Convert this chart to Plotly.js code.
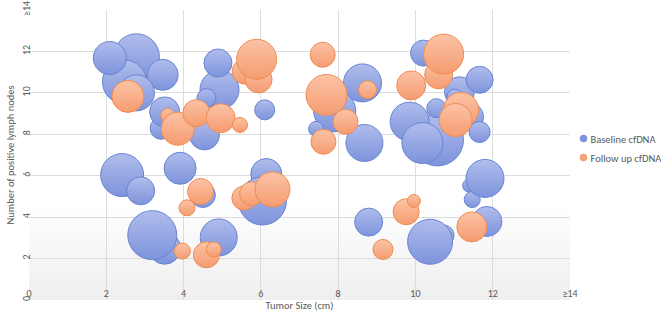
<!DOCTYPE html>
<html><head><meta charset="utf-8">
<script src="https://cdn.plot.ly/plotly-3.0.1.min.js"></script>
<style>html,body{margin:0;padding:0;background:#fff}#chart{width:661px;height:317px}</style>
</head><body><div id="chart"></div>
<script>
// Baseline cfDNA bubbles: tumor size (cm), positive lymph nodes, bubble size
const baseX = [2.78,2.47,2.09,3.46,2.78, 3.42,3.51,4.54,4.93,4.89,4.59,6.10, 7.91,7.43,8.63,8.68, 10.21,11.14,11.66,11.01, 10.57,9.85,10.18,10.54,11.40,11.66, 2.41,2.89,3.91,4.50,3.51,3.19,4.91, 6.14,6.04,8.79,10.74,10.38,11.39,11.47,11.80,11.85];
const baseY = [11.74,10.53,11.68,10.87,10.00, 8.29,9.08,7.97,10.15,11.44,9.74,9.18, 9.13,8.26,10.48,7.58, 11.92,10.05,10.63,9.82, 7.73,8.61,7.58,9.26,8.84,8.11, 6.03,5.27,6.36,5.07,2.50,3.13,3.02, 6.08,4.78,3.76,3.13,2.81,5.52,4.85,5.87,3.79];
const baseSize = [46,44,33,31,36, 22,30,30,39,28,19,20, 42,15,38,37, 26,30,27,15, 52,39,41,19,28,21, 43,28,32,25,32,49,37, 31,48,28,20,45,13,16,38,30];

// Follow up cfDNA bubbles
const followX = [2.56,3.59,3.85,4.33,4.96,5.46, 5.58,5.94,5.89, 7.60,7.70,8.19,7.62,8.76, 9.89,10.60,10.73,11.18,11.04, 4.44,4.09,3.97,4.59,4.78,5.56,5.76,6.30,9.16,9.76,9.96,11.46];
const followY = [9.83,8.91,8.27,9.02,8.78,8.45, 11.03,10.65,11.62, 11.84,9.90,8.61,7.64,10.15, 10.36,10.87,11.87,9.18,8.69, 5.24,4.45,2.36,2.18,2.44,4.92,5.13,5.34,2.44,4.26,4.78,3.53];
const followSize = [32,14,33,27,29,15, 25,27,40, 25,41,25,25,18, 29,28,40,35,33, 26,16,16,26,15,24,24,35,20,26,13,30];

// Axis ticks
const tickVals = [0,2,4,6,8,10,12,14];
const tickText = ['0','2','4','6','8','10','12','≥14'];
const seriesNames = ['Baseline cfDNA','Follow up cfDNA'];

const FONT = 'Carlito, Lato, "Liberation Sans", sans-serif';
const blue = {top:'#b0bdec', bottom:'#7d93db', line:'#6784d4', legend:'#7d95dc'};
const orange = {top:'#fcc3a6', bottom:'#f59c70', line:'#ef8c52', legend:'#f6a47c'};

function bubbleTrace(x, y, s, name, c){
  return {type:'scatter', mode:'markers', x:x, y:y, name:name, showlegend:false, hoverinfo:'x+y',
    marker:{size:s, sizemode:'diameter', sizeref:1, color:c.top, opacity:1,
      gradient:{type:'vertical', color:c.bottom}, line:{color:c.line, width:1}}};
}
function legendTrace(name, c){
  return {type:'scatter', mode:'markers', x:[null], y:[null], name:name, showlegend:true,
    marker:{size:7, color:c.legend, line:{color:c.line, width:0.5}}};
}

const data = [
  bubbleTrace(baseX, baseY, baseSize, seriesNames[0], blue),
  bubbleTrace(followX, followY, followSize, seriesNames[1], orange),
  legendTrace(seriesNames[0], blue),
  legendTrace(seriesNames[1], orange)
];

// soft white-to-grey fade at the bottom of the plot area (background decoration)
const bands = [];
const NB = 40, fadeTop = 0.34;
for (let i = 0; i < NB; i++) {
  const t = i / NB;            // 0 at bottom
  const g = Math.round(239 + (255 - 239) * t);
  bands.push({type:'rect', xref:'paper', yref:'paper', x0:0, x1:1,
    y0:fadeTop * i / NB, y1:fadeTop * (i + 1) / NB + 0.002,
    fillcolor:'rgb(' + g + ',' + g + ',' + g + ')', line:{width:0}, layer:'below'});
}

const axisCommon = {range:[0,14], tickvals:tickVals, ticktext:tickText, showgrid:true, gridcolor:'#dcdcdc', gridwidth:1,
  zeroline:false, showline:false, ticks:'', tickfont:{family:FONT, size:10, color:'#595959'}, automargin:false, fixedrange:true};

const layout = {
  width:661, height:317,
  margin:{l:29.4, r:90.5, t:10.4, b:17.3, autoexpand:false},
  paper_bgcolor:'#ffffff', plot_bgcolor:'rgba(0,0,0,0)',
  font:{family:FONT, color:'#595959', size:10},
  xaxis:Object.assign({}, axisCommon, {ticklabelposition:'outside', ticklabelstandoff:-14,
    title:{text:'Tumor Size (cm)', font:{family:FONT, size:10.5, color:'#595959'}, standoff:2}}),
  yaxis:Object.assign({}, axisCommon, {tickangle:-90, ticklabelstandoff:-4,
    title:{text:'Number of positive lymph nodes', font:{family:FONT, size:10.5, color:'#595959'}, standoff:3}}),
  legend:{x:0.988, xanchor:'left', y:0.524, yanchor:'middle', font:{family:FONT, size:10.5, color:'#595959'},
    bgcolor:'rgba(0,0,0,0)', itemwidth:30, tracegroupgap:0},
  shapes:bands,
  showlegend:true
};

Plotly.newPlot('chart', data, layout, {displayModeBar:false, staticPlot:true}).then(function(gd){
  // pull legend labels closer to their markers, as in the reference
  gd.querySelectorAll('.legend .traces').forEach(function(tr){
    var txt = tr.querySelector('text.legendtext');
    var pt = tr.querySelector('.legendpoints path');
    if(!txt || !pt) return;
    var pr = pt.getBoundingClientRect();
    var trc = txt.getBoundingClientRect();
    var gap = trc.left - (pr.left + pr.width/2);
    var x0 = parseFloat(txt.getAttribute('x')) || 40;
    txt.setAttribute('x', x0 - (gap - 7));
  });
});
</script>
</body></html>
